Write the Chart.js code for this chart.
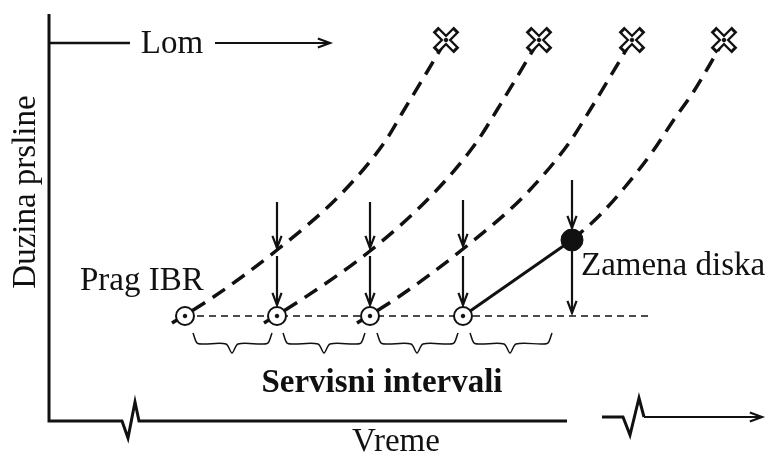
<!DOCTYPE html>
<html>
<head>
<meta charset="utf-8">
<script src="https://cdn.jsdelivr.net/npm/chart.js@4.4.0/dist/chart.umd.min.js"></script>
<style>
  html, body { margin: 0; padding: 0; background: #fff; }
  #wrap { width: 768px; height: 453px; }
</style>
</head>
<body>
<div id="wrap"><canvas id="diagram"></canvas></div>
<script>
// diagram units: x = vreme from the axis origin, y = duzina prsline
const threshold = 105;          // Prag IBR
const fractureLevel = 381;      // Lom
const inspections = [136, 228, 321, 414];
const fractures = [397, 490, 583, 675];
const replacement = [523, 181]; // Zamena diska

// crack growth curves
const crack1 = [[123, 98], [163, 123], [228, 171], [291, 226], [335, 278], [355, 311], [375, 344], [397, 381]];
const crack2 = [[215, 98], [255, 123], [321, 170], [383, 226], [427, 278], [448, 311], [468, 344], [490, 381]];
const crack3 = [[308, 98], [348, 123], [414, 172], [476, 226], [520, 278], [541, 311], [561, 344], [583, 381]];
const crack4 = [[523, 181], [549, 204], [576, 234], [604, 270], [624, 300], [645, 330], [660, 355], [675, 381]];

// service interval braces: start, middle, end
const braces = [[144, 183, 223], [234, 275, 316], [328, 368, 409], [421, 461, 503]];

const ink = "#111";
const pts = a => a.map(([x, y]) => ({ x, y }));

function path(points, style) {
    return Object.assign({
        data: pts(points), showLine: true, pointRadius: 0, borderColor: ink,
        borderWidth: 3, fill: false, clip: false, order: 10
    }, style);
}

function markers(points, style) {
    return Object.assign({
        data: pts(points), showLine: false, clip: false, pointBorderColor: ink,
        pointBackgroundColor: ink
    }, style);
}

function brace([a, tip, b]) {
    return [[a, 88], [a + 4, 78], [a + 10, 77], [tip - 6, 77], [tip, 68],
            [tip + 6, 77], [b - 10, 77], [b - 4, 78], [b, 88]];
}

const circles = inspections.map(x => [x, threshold]);
const crosses = fractures.map(x => [x, fractureLevel]);

const datasets = [
    // markers (low order = drawn on top)
    markers(circles.concat(crosses), { pointRadius: 1.8, order: 0 }),
    markers([replacement], { pointRadius: 11, order: 0 }),
    markers(circles, { pointRadius: 9, pointBackgroundColor: "#fff", pointBorderWidth: 2, order: 2 }),
    markers(crosses, { pointStyle: "crossRot", pointRadius: 12, pointBorderColor: "#fff", pointBorderWidth: 3.5, order: 1 }),
    markers(crosses, { pointStyle: "crossRot", pointRadius: 15, pointBorderWidth: 8, order: 2 }),

    // crack growth
    path(crack1, { borderWidth: 3.5, borderDash: [15, 9], cubicInterpolationMode: "monotone" }),
    path(crack2, { borderWidth: 3.5, borderDash: [15, 9], cubicInterpolationMode: "monotone" }),
    path(crack3, { borderWidth: 3.5, borderDash: [15, 9], cubicInterpolationMode: "monotone" }),
    path(crack4, { borderWidth: 3.5, borderDash: [15, 9], cubicInterpolationMode: "monotone" }),
    path([[inspections[3], threshold], replacement], { borderWidth: 3 }),

    // threshold line
    path([[inspections[0], threshold], [599, threshold]], { borderWidth: 1.5, borderDash: [7, 5] }),

    // axes with breaks
    path([[0, 407], [0, 0], [73, 0], [79, -17], [86, 19], [90, 0], [518, 0]], { borderWidth: 3 }),
    path([[553, 4], [574, 4], [581, -14], [590, 23], [595, 4]], { borderWidth: 3 }),
    path([[0, fractureLevel - 3], [81, fractureLevel - 3]], { borderWidth: 2.5 })
].concat(braces.map(b => path(brace(b), { borderWidth: 1.5, tension: 0.3 })));

// arrows: x1, y1 -> x2, y2 (head at the second point)
const arrows = [
    [166, 378, 281, 378],
    [595, 4, 713, 4],
    [228, 219, 228, 173], [228, 165, 228, 116],
    [321, 219, 321, 173], [321, 165, 321, 116],
    [414, 221, 414, 175], [414, 165, 414, 116],
    [523, 241, 523, 193], [523, 170, 523, 108]
];

const labels = [
    { text: "Lom", x: 123, y: 368, align: "center" },
    { text: "Prag IBR", x: 31, y: 131, align: "left" },
    { text: "Zamena diska", x: 532, y: 146, align: "left" },
    { text: "Servisni intervali", x: 333, y: 29, align: "center", bold: true },
    { text: "Vreme", x: 347, y: -30, align: "center" },
    { text: "Duzina prsline", x: -14, y: 229, align: "center", rotate: true }
];

const annotate = {
    id: "annotate",
    afterDatasetsDraw(chart) {
        const { ctx, scales: { x, y } } = chart;
        ctx.save();
        ctx.strokeStyle = ink;
        ctx.fillStyle = ink;
        ctx.lineCap = "butt";
        arrows.forEach(([x1, y1, x2, y2]) => {
            const ax = x.getPixelForValue(x1), ay = y.getPixelForValue(y1);
            const bx = x.getPixelForValue(x2), by = y.getPixelForValue(y2);
            const ang = Math.atan2(by - ay, bx - ax);
            ctx.lineWidth = 2.2;
            ctx.beginPath();
            ctx.moveTo(ax, ay);
            ctx.lineTo(bx, by);
            ctx.stroke();
            ctx.beginPath();
            ctx.moveTo(bx - 13 * Math.cos(ang - 0.36), by - 13 * Math.sin(ang - 0.36));
            ctx.lineTo(bx, by);
            ctx.lineTo(bx - 13 * Math.cos(ang + 0.36), by - 13 * Math.sin(ang + 0.36));
            ctx.stroke();
        });
        ctx.textBaseline = "alphabetic";
        labels.forEach(l => {
            ctx.font = (l.bold ? "bold " : "") + "33px 'Liberation Serif', 'Times New Roman', serif";
            ctx.textAlign = l.align;
            const px = x.getPixelForValue(l.x), py = y.getPixelForValue(l.y);
            if (l.rotate) {
                ctx.save();
                ctx.translate(px, py);
                ctx.rotate(-Math.PI / 2);
                ctx.fillText(l.text, 0, 0);
                ctx.restore();
            } else {
                ctx.fillText(l.text, px, py);
            }
        });
        ctx.restore();
    }
};

new Chart(document.getElementById("diagram"), {
    type: "line",
    data: { datasets: datasets },
    options: {
        responsive: true,
        maintainAspectRatio: false,
        animation: false,
        layout: { padding: 0, autoPadding: false },
        plugins: { legend: { display: false }, tooltip: { enabled: false } },
        scales: {
            x: { type: "linear", min: -49, max: 719, display: false },
            y: { type: "linear", min: -32, max: 421, display: false }
        }
    },
    plugins: [annotate]
});
</script>
</body>
</html>
